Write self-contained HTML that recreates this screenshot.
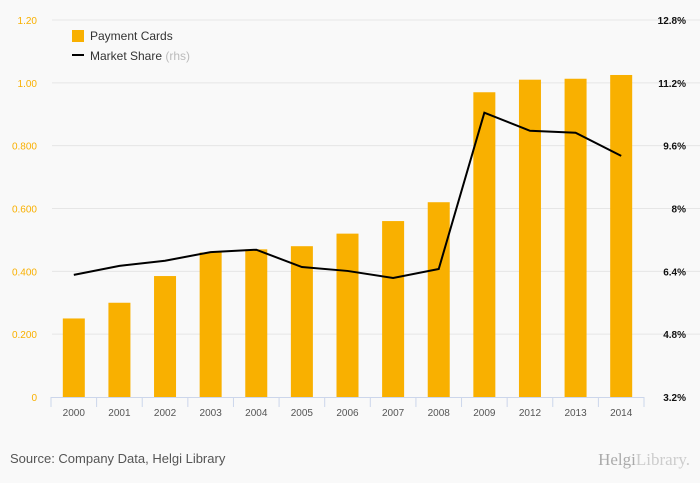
<!DOCTYPE html>
<html><head><meta charset="utf-8"><style>
body{margin:0;background:#f9f9f9;font-family:"Liberation Sans",sans-serif;}
svg{display:block}
</style></head><body>
<svg id="c" width="700" height="483">
<rect x="0" y="0" width="700" height="483" fill="#f9f9f9"/>
<g id="grid"></g><g id="bars"></g><g id="line"></g><g id="axes"></g>
<g>
<rect x="72" y="30" width="12" height="12" fill="#f9b000"/>
<text x="90" y="40" font-size="12" fill="#333">Payment Cards</text>
<line x1="72" y1="55" x2="84" y2="55" stroke="#000" stroke-width="2"/>
<text x="90" y="60" font-size="12" fill="#333">Market Share <tspan fill="#bbb">(rhs)</tspan></text>
</g>
<text x="10" y="463" font-size="13" fill="#555">Source: Company Data, Helgi Library</text>
<text x="690" y="465" font-size="17" fill="#aaa" text-anchor="end" font-family="Liberation Serif,serif">Helgi<tspan fill="#ccc">Library.</tspan></text>
</svg>
<script>
const categories=["2000","2001","2002","2003","2004","2005","2006","2007","2008","2009","2012","2013","2014"];
const cardsValues=[0.25,0.30,0.385,0.46,0.47,0.48,0.52,0.56,0.62,0.97,1.01,1.013,1.025];
const shareValues=[6.31,6.54,6.67,6.89,6.95,6.51,6.41,6.23,6.46,10.44,9.98,9.93,9.34];
const leftTicks=[0,0.2,0.4,0.6,0.8,1.0,1.2];
const leftTickLabels=["0","0.200","0.400","0.600","0.800","1.00","1.20"];
const rightTicks=[3.2,4.8,6.4,8,9.6,11.2,12.8];
const rightTickLabels=["3.2%","4.8%","6.4%","8%","9.6%","11.2%","12.8%"];
const NS="http://www.w3.org/2000/svg";
const X0=51,X1=644,Y0=397,Y1=20;
const band=(X1-X0)/categories.length;
const xc=i=>X0+band*(i+0.5);
const yL=v=>Y0-(v/1.2)*(Y0-Y1);
const yR=v=>Y0-((v-3.2)/9.6)*(Y0-Y1);
function mk(tag,attrs,parent,txt){const e=document.createElementNS(NS,tag);for(const k in attrs)e.setAttribute(k,attrs[k]);if(txt!==undefined)e.textContent=txt;document.getElementById(parent).appendChild(e);return e;}
leftTicks.forEach((t,i)=>{
 if(i>0){const g=mk("line",{x1:52,x2:700,y1:yL(t),y2:yL(t),stroke:"#e6e6e6"},"grid");
 
 }
 const l=mk("text",{x:37,y:yL(t)+4,"font-size":10,fill:"#f9b000","text-anchor":"end"},"axes",leftTickLabels[i]);
 
 
});
rightTicks.forEach((t,i)=>{
 const l=mk("text",{x:686,y:yR(t)+4,"font-size":10,"font-weight":"bold",fill:"#111","text-anchor":"end"},"axes",rightTickLabels[i]);
 
 
});
const ax=mk("line",{x1:X0,x2:X1,y1:Y0+0.5,y2:Y0+0.5,stroke:"#ccd6eb"},"axes");


for(let i=0;i<=categories.length;i++){
 const tk=mk("line",{x1:X0+band*i,x2:X0+band*i,y1:Y0,y2:Y0+10,stroke:"#ccd6eb"},"axes");
 
 
}
categories.forEach((c,i)=>{
 const b=mk("rect",{x:xc(i)-11,y:yL(cardsValues[i]),width:22,height:Y0-yL(cardsValues[i]),fill:"#f9b000"},"bars");
 
 
 const l=mk("text",{x:xc(i),y:416,"font-size":10,fill:"#555","text-anchor":"middle"},"axes",c);
 
 
});
const p=mk("polyline",{points:shareValues.map((v,i)=>xc(i)+","+yR(v)).join(" "),fill:"none",stroke:"#000","stroke-width":2},"line");


</script>
</body></html>
